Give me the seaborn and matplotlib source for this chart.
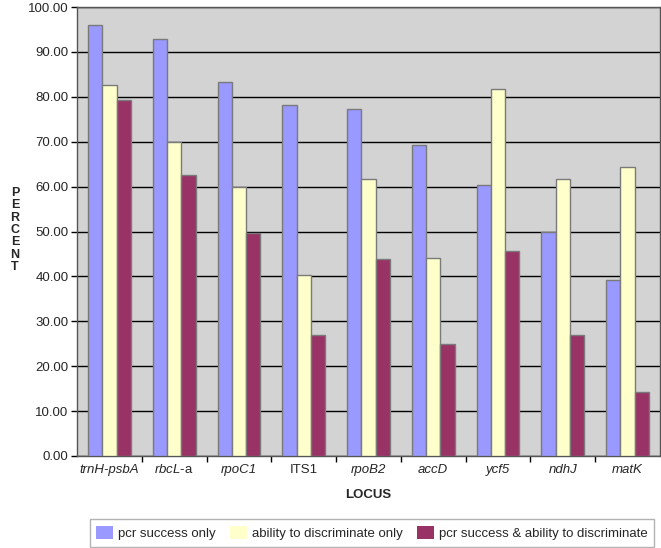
import pandas as pd
import matplotlib
matplotlib.use("Agg")
import matplotlib.pyplot as plt
import seaborn as sns

loci = ["trnH-psbA", "rbcL-a", "rpoC1", "ITS1", "rpoB2", "accD", "ycf5", "ndhJ", "matK"]
italic_labels = [True, False, True, False, True, True, True, True, True]
series = ["pcr success only", "ability to discriminate only", "pcr success & ability to discriminate"]
pcr_only = [96.0, 92.9, 83.3, 78.1, 77.2, 69.2, 60.4, 49.8, 39.2]
discrim_only = [82.6, 70.0, 60.0, 40.3, 61.8, 44.0, 81.7, 61.8, 64.3]
both = [79.3, 62.5, 49.7, 26.9, 43.8, 25.0, 45.6, 26.9, 14.3]
colors = ["#9999FF", "#FFFFCC", "#993366"]

df = pd.DataFrame({"locus": loci * 3,
                   "series": [s for s in series for _ in loci],
                   "percent": pcr_only + discrim_only + both})

sns.set_style("white")
plt.rcParams["font.family"] = ["Liberation Sans", "DejaVu Sans"]
plt.rcParams["mathtext.fontset"] = "custom"
plt.rcParams["mathtext.it"] = "Liberation Sans:italic"
plt.rcParams["mathtext.rm"] = "Liberation Sans"

fig = plt.figure(figsize=(6.61, 5.48), dpi=100)
ax = fig.add_axes([77 / 661, 1 - 456 / 548, 583 / 661, 449 / 548])
ax.set_facecolor("#D3D3D3")

sns.barplot(data=df, x="locus", y="percent", hue="series", palette=colors, saturation=1,
            width=0.66, edgecolor="#7A7A7A", linewidth=1, ax=ax, legend=False, zorder=3)

ax.set_ylim(0, 100)
ax.set_xlim(-0.5, len(loci) - 0.5)
ax.set_yticks(range(0, 101, 10))
ax.set_yticklabels([f"{v:.2f}" for v in range(0, 101, 10)], fontsize=9.5)
ax.yaxis.grid(True, color="black", linewidth=1, zorder=0)
ax.set_axisbelow(True)
ax.tick_params(axis="y", direction="out", length=4, width=1, color="black", pad=2, left=True)

ax.set_xticks(range(len(loci)))
labels = [r"$\mathit{rbcL}$-a" if name == "rbcL-a" else name for name in loci]
ax.set_xticklabels(labels, fontsize=9.5)
for lab, it in zip(ax.get_xticklabels(), italic_labels):
    lab.set_verticalalignment("baseline")  # keeps the mathtext label on the same line
    if it:
        lab.set_fontstyle("italic")
ax.set_xticks([i + 0.5 for i in range(len(loci) - 1)], minor=True)
ax.tick_params(axis="x", which="major", length=0, pad=12.5)
ax.tick_params(axis="x", which="minor", direction="out", length=4, width=1, color="black", bottom=True)

for side in ["left", "right", "top", "bottom"]:
    ax.spines[side].set_color("#555555")
    ax.spines[side].set_linewidth(1)

ax.set_xlabel("LOCUS", fontsize=9.5, fontweight="bold", labelpad=9)
ax.set_ylabel("")
fig.text(15 / 661, 1 - 230 / 548, "\n".join("PERCENT"), fontsize=9, fontweight="bold",
         ha="center", va="center", linespacing=1.05)

handles = [matplotlib.patches.Patch(facecolor=c, edgecolor="none") for c in colors]
leg = fig.legend(handles, series, loc="center", bbox_to_anchor=(372 / 661, 1 - 533 / 548), ncol=3,
                 fontsize=9.5, frameon=True, fancybox=False, handlelength=1.3, handleheight=1.2,
                 columnspacing=1.1, handletextpad=0.35, borderpad=0.5, borderaxespad=0)
leg.get_frame().set_edgecolor("#A0A0A0")
leg.get_frame().set_linewidth(1)

fig.savefig("out.png", dpi=100)
